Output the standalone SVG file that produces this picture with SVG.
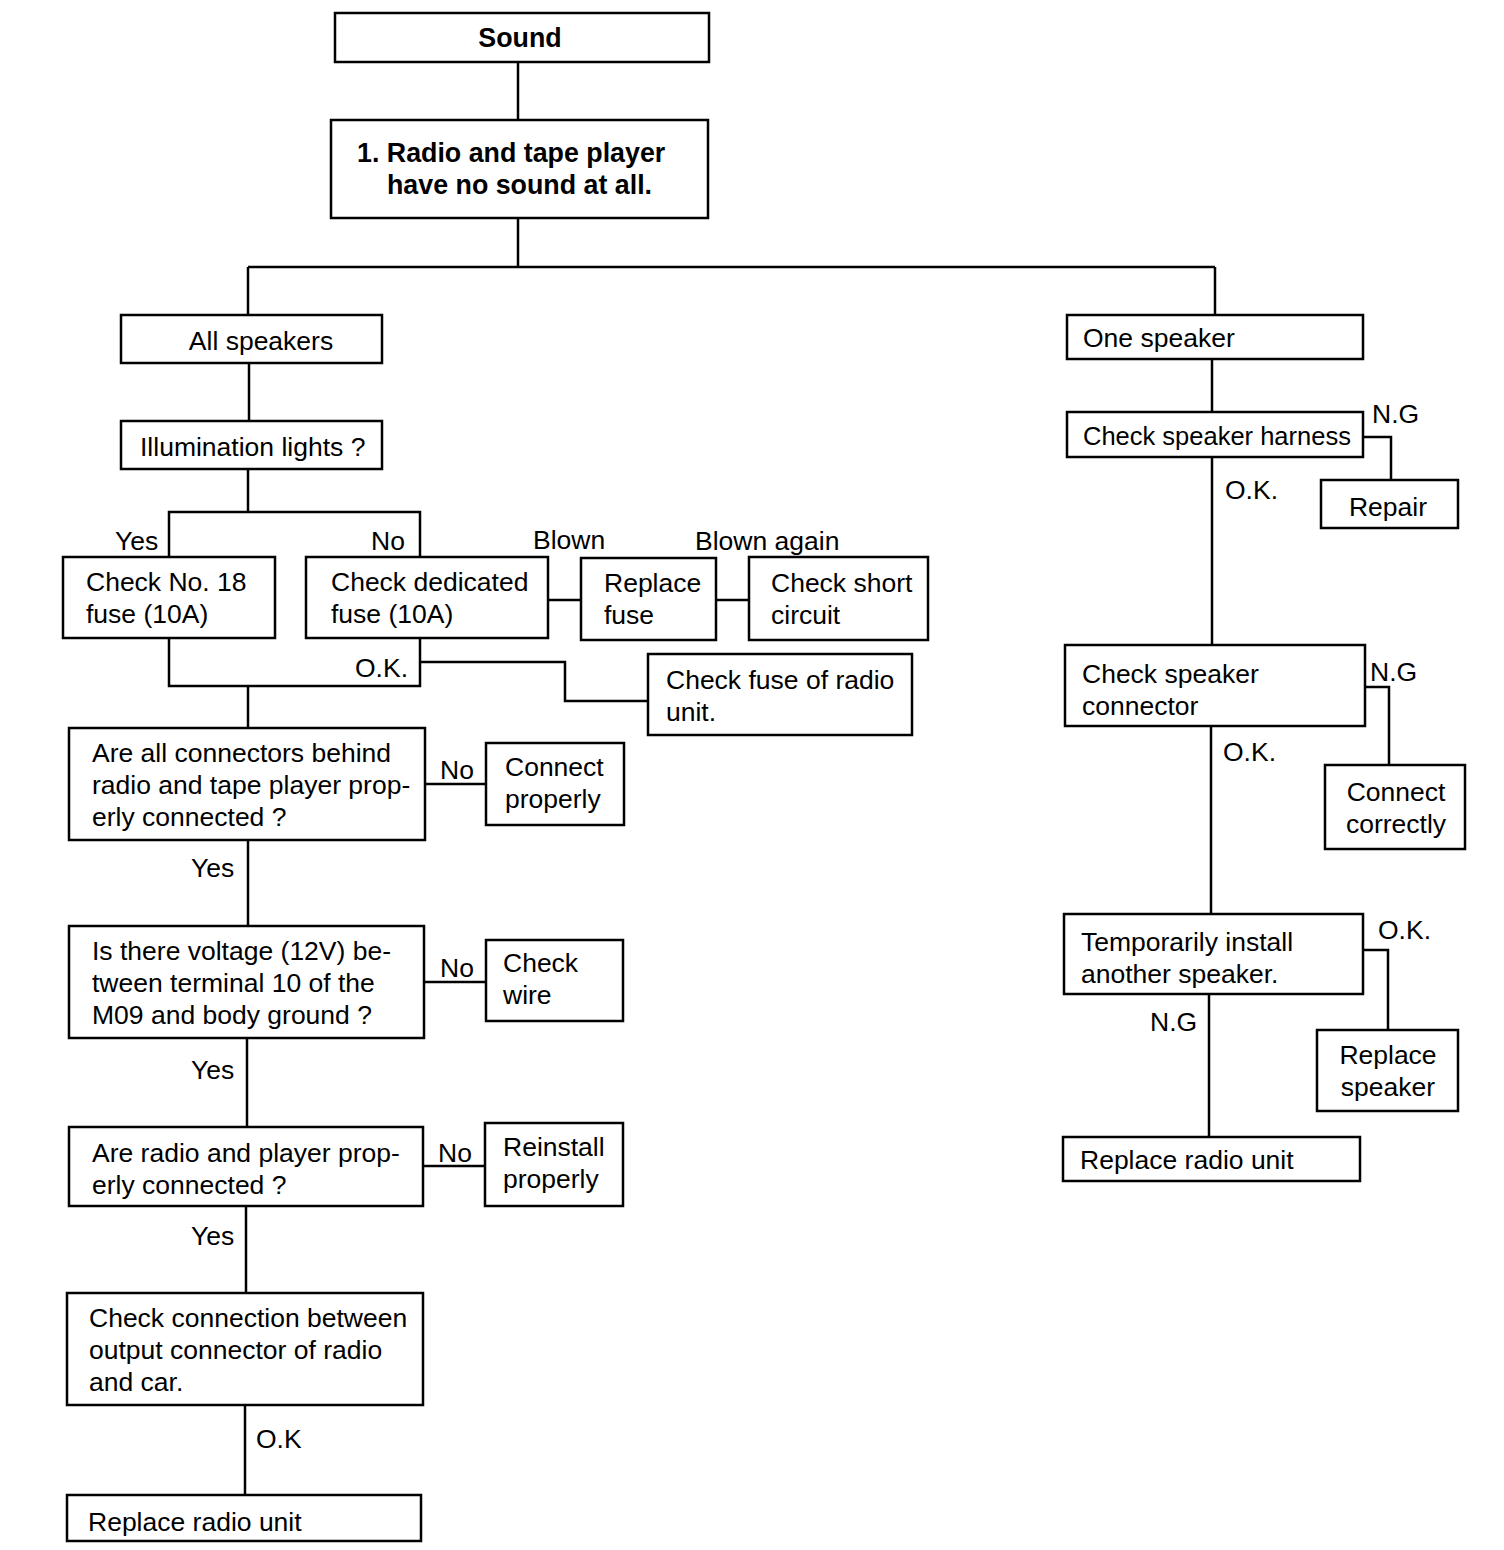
<svg xmlns="http://www.w3.org/2000/svg" width="1504" height="1550" viewBox="0 0 1504 1550">
<style>
  .box { fill: #fff; stroke: #000; stroke-width: 2.5; }
  .ln { fill: none; stroke: #000; stroke-width: 2.5; }
  text { font-family: "Liberation Sans", Arial, sans-serif; font-size: 26.5px; fill: #000; }
  .b { font-weight: bold; font-size: 26.8px; }
  .m { text-anchor: middle; }
  .s { font-size: 25.5px; }
</style>
<rect width="1504" height="1550" fill="#fff"/>
<g id="connectors">
  <path class="ln" d="M518 62 V120"/>
  <path class="ln" d="M518 218 V267"/>
  <path class="ln" d="M248 267 H1215"/>
  <path class="ln" d="M248 267 V315"/>
  <path class="ln" d="M1215 267 V315"/>
  <path class="ln" d="M249 363 V421"/>
  <path class="ln" d="M248 469 V512"/>
  <path class="ln" d="M169 557 V512 H420 V557"/>
  <path class="ln" d="M548 600 H581"/>
  <path class="ln" d="M716 600 H749"/>
  <path class="ln" d="M169 638 V686 H420 V638"/>
  <path class="ln" d="M420 662 H565 V701 H648"/>
  <path class="ln" d="M248 686 V728"/>
  <path class="ln" d="M425 784 H486"/>
  <path class="ln" d="M248 840 V926"/>
  <path class="ln" d="M424 982 H486"/>
  <path class="ln" d="M247 1038 V1127"/>
  <path class="ln" d="M423 1166 H485"/>
  <path class="ln" d="M246 1206 V1293"/>
  <path class="ln" d="M245 1405 V1495"/>
  <path class="ln" d="M1212 359 V412"/>
  <path class="ln" d="M1363 437 H1391 V480"/>
  <path class="ln" d="M1212 457 V645"/>
  <path class="ln" d="M1365 687 H1389 V765"/>
  <path class="ln" d="M1211 726 V914"/>
  <path class="ln" d="M1363 950 H1388 V1030"/>
  <path class="ln" d="M1209 994 V1137"/>
  <text x="115" y="550">Yes</text>
  <text x="371" y="550">No</text>
  <text x="533" y="549">Blown</text>
  <text x="695" y="550">Blown again</text>
  <text x="355" y="677">O.K.</text>
  <text x="440" y="779">No</text>
  <text x="191" y="877">Yes</text>
  <text x="440" y="977">No</text>
  <text x="191" y="1079">Yes</text>
  <text x="438" y="1162">No</text>
  <text x="191" y="1245">Yes</text>
  <text x="256" y="1448">O.K</text>
  <text x="1372" y="423">N.G</text>
  <text x="1225" y="499">O.K.</text>
  <text x="1370" y="681">N.G</text>
  <text x="1223" y="761">O.K.</text>
  <text x="1378" y="939">O.K.</text>
  <text x="1150" y="1031">N.G</text>
</g>
<g id="n-sound"><rect class="box" x="335" y="13" width="374" height="49"/><text class="b m" x="520" y="47">Sound</text></g>
<g id="n-nosound"><rect class="box" x="331" y="120" width="377" height="98"/><text class="b" x="357" y="162">1. Radio and tape player</text><text class="b" x="387" y="194">have no sound at all.</text></g>
<g id="n-allspk"><rect class="box" x="121" y="315" width="261" height="48"/><text class="m" x="261" y="350">All speakers</text></g>
<g id="n-illum"><rect class="box" x="121" y="421" width="261" height="48"/><text x="140" y="456">Illumination lights ?</text></g>
<g id="n-fuse18"><rect class="box" x="63" y="557" width="212" height="81"/><text x="86" y="591">Check No. 18</text><text x="86" y="623">fuse (10A)</text></g>
<g id="n-dedfuse"><rect class="box" x="306" y="557" width="242" height="81"/><text x="331" y="591">Check dedicated</text><text x="331" y="623">fuse (10A)</text></g>
<g id="n-replfuse"><rect class="box" x="581" y="558" width="135" height="82"/><text x="604" y="592">Replace</text><text x="604" y="624">fuse</text></g>
<g id="n-short"><rect class="box" x="749" y="557" width="179" height="83"/><text x="771" y="592">Check short</text><text x="771" y="624">circuit</text></g>
<g id="n-radiofuse"><rect class="box" x="648" y="654" width="264" height="81"/><text x="666" y="689">Check fuse of radio</text><text x="666" y="721">unit.</text></g>
<g id="n-connectors"><rect class="box" x="69" y="728" width="356" height="112"/><text x="92" y="762">Are all connectors behind</text><text x="92" y="794">radio and tape player prop-</text><text x="92" y="826">erly connected ?</text></g>
<g id="n-connprop"><rect class="box" x="486" y="743" width="138" height="82"/><text x="505" y="776">Connect</text><text x="505" y="808">properly</text></g>
<g id="n-voltage"><rect class="box" x="69" y="926" width="355" height="112"/><text x="92" y="960">Is there voltage (12V) be-</text><text x="92" y="992">tween terminal 10 of the</text><text x="92" y="1024">M09 and body ground ?</text></g>
<g id="n-wire"><rect class="box" x="486" y="940" width="137" height="81"/><text x="503" y="972">Check</text><text x="503" y="1004">wire</text></g>
<g id="n-player"><rect class="box" x="69" y="1127" width="354" height="79"/><text x="92" y="1162">Are radio and player prop-</text><text x="92" y="1194">erly connected ?</text></g>
<g id="n-reinstall"><rect class="box" x="485" y="1123" width="138" height="83"/><text x="503" y="1156">Reinstall</text><text x="503" y="1188">properly</text></g>
<g id="n-output"><rect class="box" x="67" y="1293" width="356" height="112"/><text x="89" y="1327">Check connection between</text><text x="89" y="1359">output connector of radio</text><text x="89" y="1391">and car.</text></g>
<g id="n-replradio1"><rect class="box" x="67" y="1495" width="354" height="46"/><text x="88" y="1531">Replace radio unit</text></g>
<g id="n-onespk"><rect class="box" x="1067" y="315" width="296" height="44"/><text x="1083" y="347">One speaker</text></g>
<g id="n-harness"><rect class="box" x="1067" y="412" width="296" height="45"/><text class="s" x="1083" y="445">Check speaker harness</text></g>
<g id="n-repair"><rect class="box" x="1321" y="480" width="137" height="48"/><text class="m" x="1388" y="516">Repair</text></g>
<g id="n-spkconn"><rect class="box" x="1065" y="645" width="300" height="81"/><text x="1082" y="683">Check speaker</text><text x="1082" y="715">connector</text></g>
<g id="n-conncorr"><rect class="box" x="1325" y="765" width="140" height="84"/><text class="m" x="1396" y="801">Connect</text><text class="m" x="1396" y="833">correctly</text></g>
<g id="n-temp"><rect class="box" x="1064" y="914" width="299" height="80"/><text x="1081" y="951">Temporarily install</text><text x="1081" y="983">another speaker.</text></g>
<g id="n-replspk"><rect class="box" x="1317" y="1030" width="141" height="81"/><text class="m" x="1388" y="1064">Replace</text><text class="m" x="1388" y="1096">speaker</text></g>
<g id="n-replradio2"><rect class="box" x="1063" y="1137" width="297" height="44"/><text x="1080" y="1169">Replace radio unit</text></g>
</svg>
